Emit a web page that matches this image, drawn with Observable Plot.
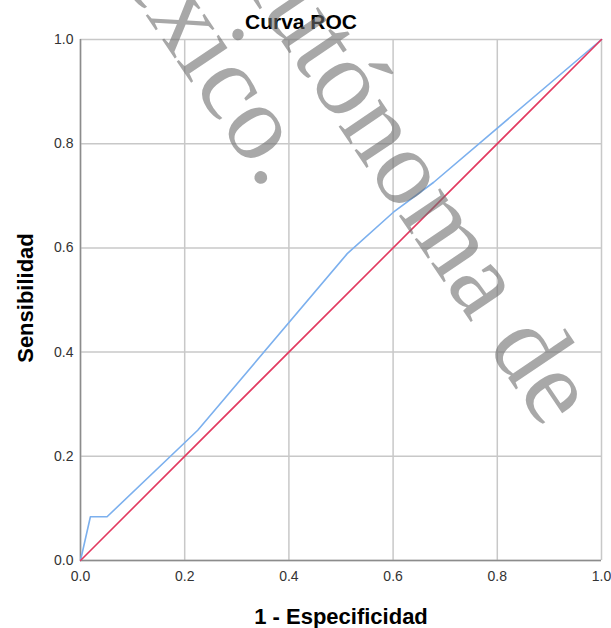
<!DOCTYPE html>
<html>
<head>
<meta charset="utf-8">
<script src="https://cdn.jsdelivr.net/npm/d3@7"></script>
<script src="https://cdn.jsdelivr.net/npm/@observablehq/plot@0.6"></script>
<style>
  html, body { margin: 0; padding: 0; background: #fff; }
  #chart { position: relative; width: 611px; height: 628px; overflow: hidden; }
  .wmline {
    position: absolute; white-space: nowrap; pointer-events: none;
    font-family: "Liberation Serif", "DejaVu Serif", "Times New Roman", serif !important;
    font-size: 36px; line-height: 1; color: rgba(110,110,110,0.6);
    transform-origin: 0 0;
  }
</style>
</head>
<body>
<div id="chart"></div>
<script>
// ---- data ----
const titleText = "Curva ROC";
const xLabel = "1 - Especificidad";
const yLabel = "Sensibilidad";
const xTicks = [0, 0.2, 0.4, 0.6, 0.8, 1.0];
const yTicks = [0, 0.2, 0.4, 0.6, 0.8, 1.0];
const rocFpr = [0, 0.019, 0.051, 0.225, 0.512, 0.6, 0.678, 1];
const rocTpr = [0, 0.084, 0.084, 0.25, 0.589, 0.668, 0.726, 1];
const refFpr = [0, 1];
const refTpr = [0, 1];
const watermark1a = "Au";
const watermark1b = "tónoma de";
const watermark2a = "Mé";
const watermark2b = "xico.";

const roc = rocFpr.map((x, i) => ({x, y: rocTpr[i]}));
const ref = refFpr.map((x, i) => ({x, y: refTpr[i]}));

const gridColor = "#c8c8c8";
const plot = Plot.plot({
  width: 611,
  height: 628,
  marginLeft: 80,
  marginRight: 10,
  marginTop: 39,
  marginBottom: 68,
  style: {fontFamily: "'Liberation Sans', Arial, sans-serif", fontSize: "14px", color: "#333", background: "#fff"},
  x: {domain: [0, 1]},
  y: {domain: [0, 1]},
  marks: [
    Plot.ruleX(xTicks, {stroke: gridColor, strokeWidth: 1.5}),
    Plot.ruleY(yTicks, {stroke: gridColor, strokeWidth: 1.5}),
    Plot.ruleX([0], {stroke: "#8c8c8c", strokeWidth: 1.5}),
    Plot.ruleY([0], {stroke: "#8c8c8c", strokeWidth: 1.5}),
    Plot.line(roc, {x: "x", y: "y", stroke: "#7cb0ee", strokeWidth: 1.6}),
    Plot.line(ref, {x: "x", y: "y", stroke: "#e23a60", strokeWidth: 1.6}),
    Plot.axisX({ticks: xTicks, tickFormat: d3.format(".1f"), tickSize: 0, tickPadding: 11, label: null, fontSize: 14}),
    Plot.axisY({ticks: yTicks, tickFormat: d3.format(".1f"), tickSize: 0, tickPadding: 7, label: null, fontSize: 14})
  ]
});
const chart = document.getElementById("chart");
chart.appendChild(plot);

const svg = d3.select(plot);
const bold = "'Liberation Sans', Arial, sans-serif";
svg.append("text").text(titleText)
  .attr("x", 301).attr("y", 29).attr("text-anchor", "middle")
  .style("font-family", bold).style("font-weight", "bold").style("font-size", "21px").attr("fill", "#000");
svg.append("text").text(xLabel)
  .attr("x", 341).attr("y", 624).attr("text-anchor", "middle")
  .style("font-family", bold).style("font-weight", "bold").style("font-size", "22px").attr("fill", "#000");
svg.append("text").text(yLabel)
  .attr("transform", "translate(33,298) rotate(-90)").attr("text-anchor", "middle")
  .style("font-family", bold).style("font-weight", "bold").style("font-size", "22px").attr("fill", "#000");

// watermark as HTML text over the chart (small font scaled up)
const ang = 56;
const base = 30.15; // baseline offset for line-height 1 at 36px
const addWm = (s, end, tx, ty) => {
  const d = document.createElement("div");
  d.className = "wmline";
  d.textContent = s;
  d.style.left = tx + "px";
  d.style.top = ty + "px";
  d.style.transform = `rotate(${ang}deg) scale(3) translate(${end ? "-100%" : "0"}, -${base}px)`;
  chart.appendChild(d);
};
addWm(watermark2a, true, 145, 15);
addWm(watermark2b, false, 145, 15);
addWm(watermark1a, true, 290, 55);
addWm(watermark1b, false, 290, 55);
</script>
</body>
</html>
